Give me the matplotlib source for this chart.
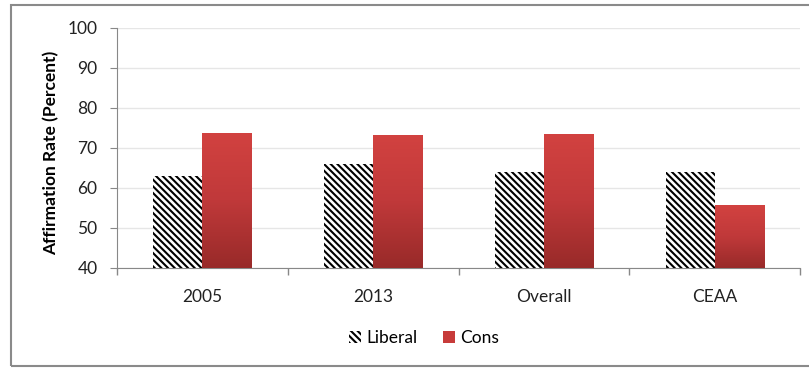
import numpy as np
import matplotlib.pyplot as plt
from matplotlib.patches import Rectangle
from matplotlib.colors import LinearSegmentedColormap

categories = ["2005", "2013", "Overall", "CEAA"]
liberal = [63.1, 65.9, 64.1, 63.9]
cons = [73.8, 73.3, 73.5, 55.7]

plt.rcParams["font.family"] = ["Lato", "DejaVu Sans"]
plt.rcParams["hatch.linewidth"] = 1.5

fig = plt.figure(figsize=(8.09, 3.68), dpi=100)
ax = fig.add_axes([117 / 809, 1 - 268 / 368, 683 / 809, 240 / 368])

x = np.arange(len(categories))
w = 0.287
red_grad = LinearSegmentedColormap.from_list("redgrad", ["#982a29", "#c0393a", "#d24240"])

lib_bars = ax.bar(x - w / 2, liberal, w, color="white", edgecolor="black",
                  linewidth=0, hatch="\\\\\\\\\\", label="Liberal", zorder=3)
cons_bars = ax.bar(x + w / 2, cons, w, color="#c73b3a", edgecolor="none",
                   label="Cons", zorder=3)

# vertical gradient fill on the Cons bars
grad = np.linspace(0, 1, 256).reshape(-1, 1)
for b in cons_bars:
    x0, y0 = b.get_x(), 40
    x1, y1 = b.get_x() + b.get_width(), b.get_height()
    im = ax.imshow(grad, cmap=red_grad, aspect="auto", origin="lower",
                   extent=(x0, x1, y0, y1), zorder=4)
    im.set_clip_path(b)

ax.set_xlim(-0.5, len(categories) - 0.5)
ax.set_ylim(40, 100)
ax.set_yticks(range(40, 101, 10))
ax.yaxis.grid(True, color="#e6e6e6", linewidth=1, zorder=0)
ax.set_axisbelow(True)

ax.set_xticks(x)
ax.set_xticklabels(categories, fontsize=12.5, color="#222222")
ax.set_xticks(np.arange(-0.5, len(categories)), minor=True)
ax.tick_params(axis="x", which="major", length=0, pad=15)
ax.tick_params(axis="x", which="minor", length=5, color="#888888", width=1)
ax.tick_params(axis="y", length=5, color="#888888", labelsize=12.5,
               labelcolor="#222222", pad=9)

for s in ["top", "right"]:
    ax.spines[s].set_visible(False)
for s in ["left", "bottom"]:
    ax.spines[s].set_color("#888888")

ax.set_ylabel("Affirmation Rate (Percent)", fontsize=12.5, fontweight="bold")
ax.yaxis.set_label_coords(-0.084, 0.48)

leg = fig.legend(handles=[lib_bars, cons_bars], labels=["Liberal", "Cons"],
                 loc="center", bbox_to_anchor=(424 / 809, 1 - 338 / 368),
                 ncol=2, frameon=False, fontsize=12.5, handlelength=0.7,
                 handleheight=0.7, handletextpad=0.3, columnspacing=1.5)

# outer chart frame
fig.patches.append(Rectangle((11 / 809, 2 / 368), 1.2, 361 / 368,
                             transform=fig.transFigure, fill=False,
                             edgecolor="#8a8a8a", linewidth=1.5))

fig.savefig("out.png", dpi=100)
